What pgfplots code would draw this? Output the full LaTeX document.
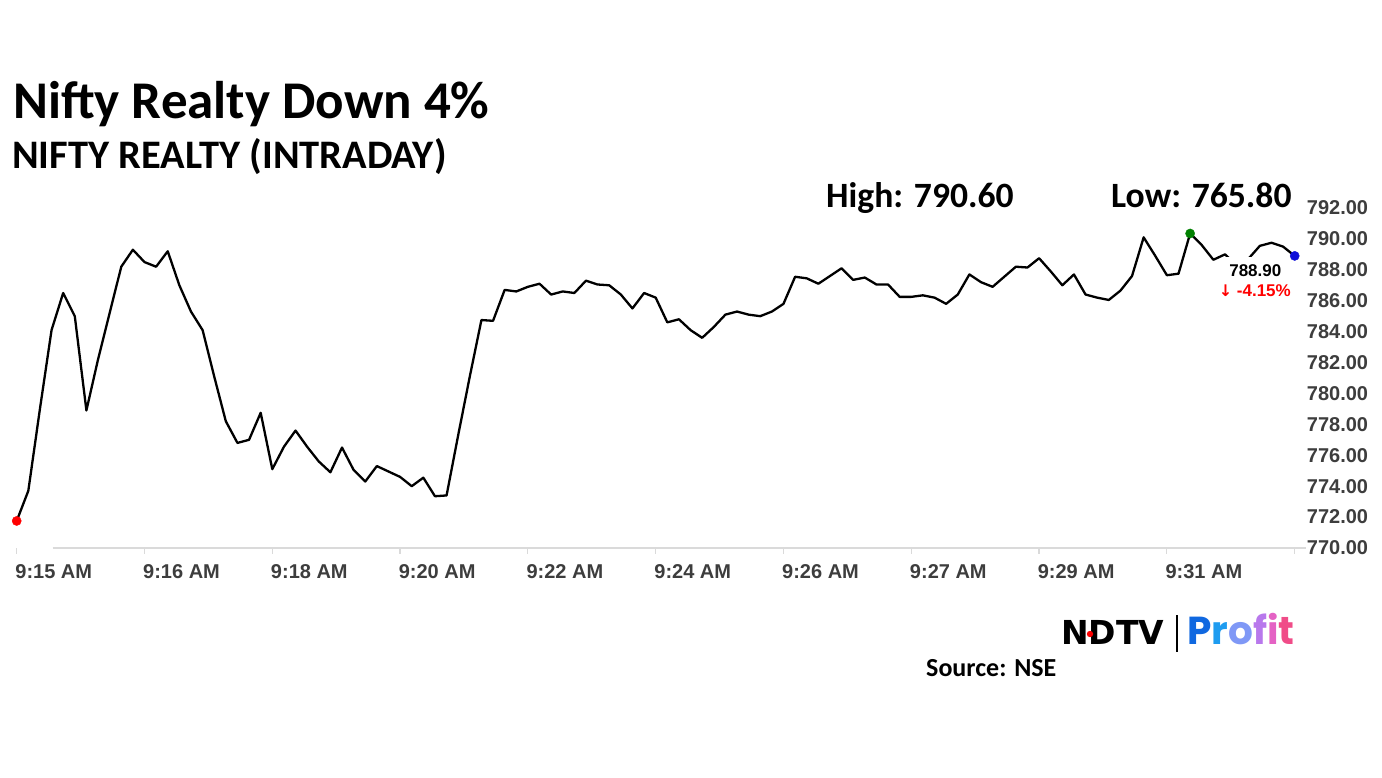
\documentclass[border=0pt]{standalone}
\usepackage{fontspec}
\setmainfont{Carlito}
\newfontfamily\arial{Liberation Sans}
\newfontfamily\dejavu{DejaVu Sans}
\newfontfamily\pop{Poppins}
\usepackage{pgfplots}
\usepackage{pgfplotstable}
\pgfplotsset{compat=1.18}
\definecolor{labc}{HTML}{3D3D3D}
\definecolor{gridc}{HTML}{DADADA}
\definecolor{dotgreen}{HTML}{008000}
\definecolor{dotblue}{HTML}{1010D8}
\definecolor{pA}{HTML}{1068E0}
\definecolor{pB}{HTML}{1E9CF0}
\definecolor{pC}{HTML}{7F98F6}
\definecolor{pD}{HTML}{B878EC}
\definecolor{pE}{HTML}{E462C4}
\definecolor{pF}{HTML}{F04C88}
\pgfplotstableread{
i v
0 771.75
1 773.7
2 779.0
3 784.1
4 786.5
5 785.0
6 778.9
7 782.2
8 785.2
9 788.2
10 789.3
11 788.5
12 788.2
13 789.2
14 787.0
15 785.3
16 784.1
17 781.1
18 778.2
19 776.8
20 777.0
21 778.75
22 775.1
23 776.55
24 777.6
25 776.55
26 775.6
27 774.9
28 776.5
29 775.05
30 774.3
31 775.3
32 774.95
33 774.6
34 774.0
35 774.55
36 773.35
37 773.4
38 777.3
39 781.1
40 784.75
41 784.7
42 786.7
43 786.6
44 786.9
45 787.1
46 786.4
47 786.6
48 786.5
49 787.3
50 787.05
51 787.0
52 786.4
53 785.5
54 786.5
55 786.2
56 784.6
57 784.8
58 784.1
59 783.6
60 784.3
61 785.1
62 785.3
63 785.1
64 785.0
65 785.3
66 785.8
67 787.55
68 787.45
69 787.1
70 787.6
71 788.1
72 787.35
73 787.5
74 787.05
75 787.05
76 786.25
77 786.25
78 786.35
79 786.2
80 785.8
81 786.4
82 787.7
83 787.2
84 786.9
85 787.55
86 788.2
87 788.15
88 788.75
89 787.9
90 787.0
91 787.7
92 786.4
93 786.2
94 786.05
95 786.65
96 787.6
97 790.1
98 788.9
99 787.65
100 787.75
101 790.35
102 789.6
103 788.65
104 789.0
105 788.3
106 788.7
107 789.55
108 789.75
109 789.5
110 788.9
}\realty
\begin{document}
\begin{tikzpicture}
\path[use as bounding box] (0,0) rectangle (1382pt,777pt);
\begin{axis}[
  at={(16.7pt,229pt)}, anchor=south west,
  scale only axis, width=1278pt, height=340pt,
  xmin=0, xmax=110, ymin=770, ymax=792,
  clip=false,
  axis line style={draw=none},
  xtick={0,11,...,110},
  xticklabels={9:15 AM,9:16 AM,9:18 AM,9:20 AM,9:22 AM,9:24 AM,9:26 AM,9:27 AM,9:29 AM,9:31 AM,{}},
  ytick={770,772,...,792},
  xtick pos=bottom, ytick pos=right,
  yticklabel pos=right,
  tick align=outside,
  major tick length=6pt,
  x tick style={draw=gridc, line width=1.2pt},
  y tick style={draw=none},
  /pgf/number format/assume math mode=true,
  xticklabel style={font=\arial\bfseries\fontsize{20}{20}\selectfont, text=labc, inner sep=0pt, anchor=north west, xshift=-1.5pt, yshift=-10pt},
  yticklabel style={font=\arial\bfseries\fontsize{20}{20}\selectfont, text=labc, inner sep=0pt, anchor=west, xshift=6pt,
    /pgf/number format/.cd, fixed, fixed zerofill, precision=2, 1000 sep={}},
]
\draw[gridc, line width=1.2pt] (axis cs:3.1,770) -- (axis cs:110.95,770);
\addplot[black, line width=2.3pt, line join=round] table[x=i, y=v] {\realty};
\addplot[only marks, mark=*, mark size=4.6pt, color=red] coordinates {(0,771.75)};
\addplot[only marks, mark=*, mark size=4.6pt, color=dotgreen] coordinates {(101,790.35)};
\addplot[only marks, mark=*, mark size=4.6pt, color=dotblue] coordinates {(110,788.9)};
\end{axis}
% labels of last value
\node[anchor=base east, fill=white, inner xsep=7.5pt, inner ysep=8pt, text=black,
  font=\arial\bfseries\fontsize{17}{17}\selectfont] at (1289pt,500.3pt) {788.90};
\node[anchor=base east, inner sep=0pt, text=red, font=\arial\bfseries\fontsize{17}{17}\selectfont]
  at (1291pt,480.3pt) {{\dejavu\bfseries\fontsize{16}{16}\selectfont ↓} -4.15\%};
% titles
\node[anchor=base west, inner sep=0pt, font=\bfseries\fontsize{53}{53}\selectfont] at (13pt,658.7pt) {Nifty Realty Down 4\%};
\node[anchor=base west, inner sep=0pt, font=\bfseries\fontsize{40.5}{41}\selectfont] at (12pt,608.5pt) {NIFTY REALTY (INTRADAY)};
\node[anchor=base west, inner sep=0pt, font=\bfseries\fontsize{35.6}{36}\selectfont] at (826pt,569.5pt) {High: 790.60};
\node[anchor=base west, inner sep=0pt, font=\bfseries\fontsize{35.6}{36}\selectfont] at (1111pt,569.5pt) {Low: 765.80};
% source and logo
\node[anchor=base west, inner sep=0pt, font=\bfseries\fontsize{26}{26}\selectfont] at (926pt,100pt) {Source: NSE};
\node[anchor=base west, inner sep=0pt, font=\dejavu\bfseries\fontsize{33}{33}\selectfont] at (1061pt,132pt) {NDTV};
\fill[red] (1090pt,143pt) circle (3.2pt);
\draw[black, line width=2pt] (1177pt,125pt) -- (1177pt,162pt);
\node[anchor=base west, inner sep=0pt, font=\pop\bfseries\fontsize{39}{39}\selectfont] at (1187pt,132pt)
  {\textcolor{pA}{P}\textcolor{pB}{r}\textcolor{pC}{o}\textcolor{pD}{f}\textcolor{pE}{i}\textcolor{pF}{t}};
\end{tikzpicture}
\end{document}
